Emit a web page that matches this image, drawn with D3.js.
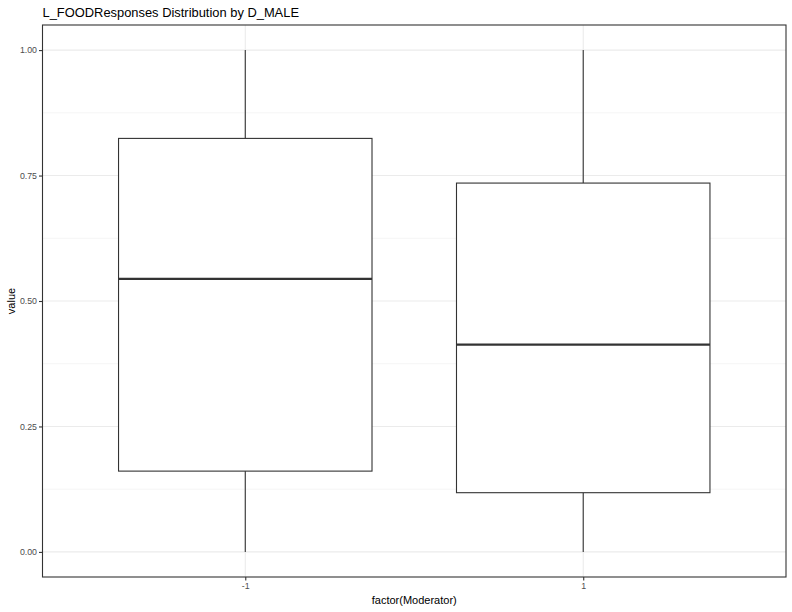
<!DOCTYPE html>
<html><head><meta charset="utf-8">
<script src="https://cdn.jsdelivr.net/npm/d3@7"></script>
<style>body{margin:0;background:#fff}svg{display:block}text{font-family:"Liberation Sans",Arial,sans-serif}</style>
</head><body><svg id="c" width="792" height="612"></svg>
<script>
const categories = ["-1", "1"];
const lowerWhisker = [0.0, 0.0];
const q1 = [0.161, 0.118];
const median = [0.544, 0.413];
const q3 = [0.824, 0.735];
const upperWhisker = [1.0, 1.0];
const yTicks = [0, 0.25, 0.5, 0.75, 1.0];
const yMinor = [0.125, 0.375, 0.625, 0.875];
const title = "L_FOODResponses Distribution by D_MALE";
const xTitle = "factor(Moderator)";
const yTitle = "value";

const svg = d3.select("#c");
const L = 42.5, R = 786, T = 25, B = 577;
const y = d3.scaleLinear().domain([-0.05, 1.05]).range([B, T]);
// discrete expand: 0.6 units each side
const xi = d3.scaleLinear().domain([0.4, categories.length + 0.6]).range([L, R]);
const cx = (i) => xi(i + 1);
const bw = xi(0.75) - xi(0);

const g = svg.append("g");
g.selectAll(".ymin").data(yMinor).enter().append("line")
  .attr("x1", L).attr("x2", R).attr("y1", d => y(d)).attr("y2", d => y(d))
  .attr("stroke", "#ebebeb").attr("stroke-width", 0.55);
g.selectAll(".ymaj").data(yTicks).enter().append("line")
  .attr("x1", L).attr("x2", R).attr("y1", d => y(d)).attr("y2", d => y(d))
  .attr("stroke", "#ebebeb").attr("stroke-width", 1.1);
g.selectAll(".xmaj").data(categories).enter().append("line")
  .attr("x1", (d, i) => cx(i)).attr("x2", (d, i) => cx(i)).attr("y1", T).attr("y2", B)
  .attr("stroke", "#ebebeb").attr("stroke-width", 1.1);

const bx = g.selectAll(".box").data(categories).enter().append("g");
bx.append("line").attr("x1", (d, i) => cx(i)).attr("x2", (d, i) => cx(i))
  .attr("y1", (d, i) => y(q3[i])).attr("y2", (d, i) => y(upperWhisker[i]))
  .attr("stroke", "#333").attr("stroke-width", 1.1);
bx.append("line").attr("x1", (d, i) => cx(i)).attr("x2", (d, i) => cx(i))
  .attr("y1", (d, i) => y(q1[i])).attr("y2", (d, i) => y(lowerWhisker[i]))
  .attr("stroke", "#333").attr("stroke-width", 1.1);
bx.append("rect").attr("x", (d, i) => cx(i) - bw / 2).attr("width", bw)
  .attr("y", (d, i) => y(q3[i])).attr("height", (d, i) => y(q1[i]) - y(q3[i]))
  .attr("fill", "#fff").attr("stroke", "#333").attr("stroke-width", 1.1);
bx.append("line").attr("x1", (d, i) => cx(i) - bw / 2).attr("x2", (d, i) => cx(i) + bw / 2)
  .attr("y1", (d, i) => y(median[i])).attr("y2", (d, i) => y(median[i]))
  .attr("stroke", "#333").attr("stroke-width", 2.2);

svg.append("rect").attr("x", L).attr("y", T).attr("width", R - L).attr("height", B - T)
  .attr("fill", "none").attr("stroke", "#333").attr("stroke-width", 1.1);

const ya = svg.append("g").attr("transform", `translate(${L},0)`)
  .call(d3.axisLeft(y).tickValues(yTicks).tickFormat(d3.format(".2f")).tickSize(3.5).tickPadding(2));
ya.select(".domain").remove();
ya.selectAll("line").attr("stroke", "#333").attr("stroke-width", 1.1);
ya.selectAll("text").attr("fill", "#4d4d4d").style("font-size", "8.8px").attr("font-family", null);

const xa = svg.append("g").attr("transform", `translate(0,${B})`)
  .call(d3.axisBottom(xi).tickValues(categories.map((d, i) => i + 1)).tickFormat((d) => categories[d - 1]).tickSize(3.5).tickPadding(2));
xa.select(".domain").remove();
xa.selectAll("line").attr("stroke", "#333").attr("stroke-width", 1.1);
xa.selectAll("text").attr("fill", "#4d4d4d").style("font-size", "8.8px").attr("font-family", null);

svg.append("text").attr("x", L).attr("y", 17).text(title).style("font-size", "12.9px").attr("fill", "#000");
svg.append("text").attr("x", (L + R) / 2).attr("y", 604).attr("text-anchor", "middle").text(xTitle).style("font-size", "11px").attr("fill", "#000");
svg.append("text").attr("transform", `translate(15,${(T + B) / 2}) rotate(-90)`).attr("text-anchor", "middle").text(yTitle).style("font-size", "11px").attr("fill", "#000");
</script></body></html>
